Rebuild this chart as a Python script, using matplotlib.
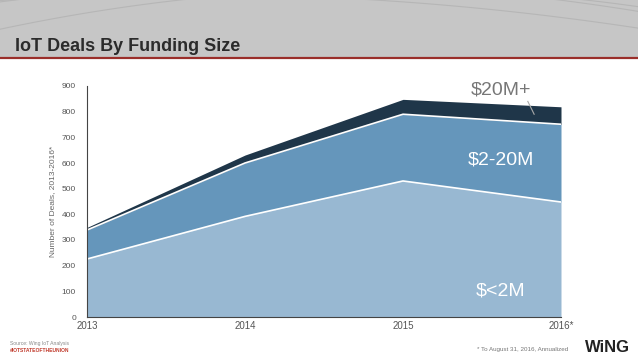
import matplotlib
matplotlib.use("Agg")
import matplotlib.pyplot as plt
from matplotlib.patches import Rectangle
from matplotlib.lines import Line2D
import numpy as np

years = [0, 1, 2, 3]
year_labels = ["2013", "2014", "2015", "2016*"]
small = [226, 392, 530, 448]        # $<2M
mid = [113, 208, 260, 303]          # $2-20M
large = [10, 31, 58, 68]            # $20M+
yticks = [0, 100, 200, 300, 400, 500, 600, 700, 800, 900]

c_small = "#98b8d2"
c_mid = "#6596bb"
c_large = "#1f3649"

fig = plt.figure(figsize=(6.38, 3.59), dpi=100)
fig.patch.set_facecolor("white")

# header
hdr = fig.add_axes([0, 1 - 57/359, 1, 57/359])
hdr.set_xlim(0, 1); hdr.set_ylim(0, 1); hdr.axis("off")
hdr.add_patch(Rectangle((0, 0), 1, 1, color="#c6c6c6", zorder=0))
t = np.linspace(0, 1, 100)
for a, b, c in [(0.3, 1.1, 0.55), (0.45, 1.3, 0.75), (0.6, 1.2, 0.9)]:
    hdr.plot(t, b - (t - a) ** 2 * c * 2.2, color="#b6b6b6", lw=0.8, zorder=1)
fig.add_artist(Line2D([0, 1], [1 - 57.5/359, 1 - 57.5/359], color="#9a2e2a", lw=1.6))
fig.text(15/638, 1 - 51/359, "IoT Deals By Funding Size", fontsize=13,
         family=["Liberation Sans", "DejaVu Sans"], color="#2b2b2b",
         fontweight="bold", va="baseline")

ax = fig.add_axes([87/638, 42/359, 474/638, 231/359])
s1 = np.array(small)
s2 = s1 + np.array(mid)
s3 = s2 + np.array(large)
ax.fill_between(years, 0, s1, color=c_small, lw=0)
ax.fill_between(years, s1, s2, color=c_mid, lw=0)
ax.fill_between(years, s2, s3, color=c_large, lw=0)
ax.plot(years, s1, color="white", lw=1.2)
ax.plot(years, s2, color="white", lw=1.2)
ax.set_xlim(0, 3)
ax.set_ylim(0, 900)
ax.set_yticks(yticks)
ax.set_xticks(years)
ax.set_xticklabels(year_labels)
ax.tick_params(axis="y", length=0, labelsize=6, labelcolor="#555555", pad=8)
ax.tick_params(axis="x", length=0, labelsize=7, labelcolor="#555555", pad=3)
for lab in ax.get_xticklabels():
    lab.set_family(["Liberation Sans", "DejaVu Sans"])
for lab in ax.get_yticklabels():
    lab.set_family(["Liberation Sans", "DejaVu Sans"])
for sp in ["top", "right"]:
    ax.spines[sp].set_visible(False)
ax.spines["left"].set_color("#444444")
ax.spines["bottom"].set_color("#444444")
ax.spines["left"].set_linewidth(0.8)
ax.spines["bottom"].set_linewidth(0.8)
ax.set_ylabel("Number of Deals, 2013-2016*", fontsize=6, color="#666666",
              family=["Liberation Sans", "DejaVu Sans"], labelpad=4)

ax.text(2.62, 885, "$20M+", fontsize=14, color="#777777", ha="center",
        va="center", family=["Liberation Sans", "DejaVu Sans"])
ax.plot([2.79, 2.83], [840, 790], color="#aaaaaa", lw=0.8, clip_on=False)
ax.text(2.62, 612, "$2-20M", fontsize=14, color="white", ha="center",
        va="center", family=["Liberation Sans", "DejaVu Sans"])
ax.text(2.62, 100, "$<2M", fontsize=14, color="white", ha="center",
        va="center", family=["Liberation Sans", "DejaVu Sans"])

fig.text(10/638, 1 - 343/359, "Source: Wing IoT Analysis", fontsize=3.6,
         color="#888888", family=["Liberation Sans", "DejaVu Sans"], va="center")
fig.text(10/638, 1 - 351/359, "#IOTSTATEOFTHEUNION", fontsize=3.6,
         color="#c0392b", fontweight="bold",
         family=["Liberation Sans", "DejaVu Sans"], va="center")
fig.text(568/638, 1 - 350/359, "* To August 31, 2016, Annualized", fontsize=4.5,
         color="#777777", ha="right", family=["Liberation Sans", "DejaVu Sans"], va="center")
fig.text(585/638, 1 - 348/359, "WiNG", fontsize=12, color="#222222",
         fontweight="bold", family=["Liberation Sans", "DejaVu Sans"], va="center")

fig.savefig("out.png", dpi=100)
